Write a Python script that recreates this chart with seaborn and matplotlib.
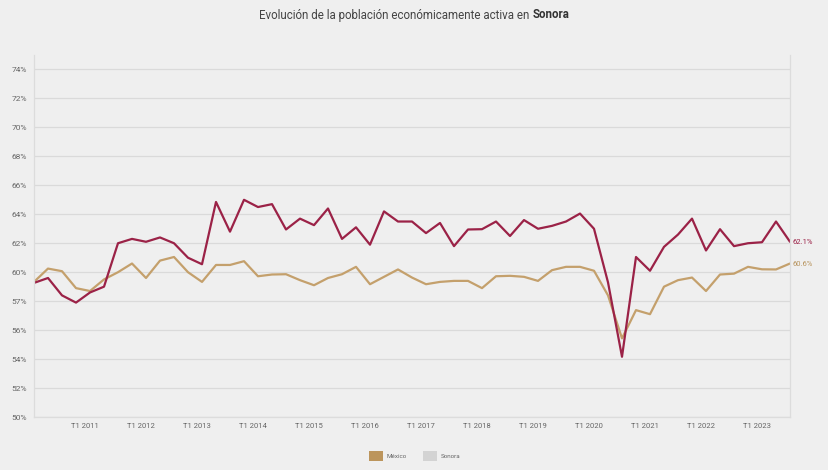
import matplotlib
matplotlib.use("Agg")
import matplotlib.pyplot as plt
import matplotlib.transforms as mtransforms
from matplotlib.patches import Patch
import seaborn as sns
import pandas as pd
import numpy as np

# ---- data (quarterly, T1 2010 .. T3 2023) ----
years = list(range(2010, 2024))
quarters = [f"T{q} {y}" for y in years for q in (1, 2, 3, 4)][:55]

sonora = [59.26, 59.6, 58.4, 57.9, 58.6, 59.0, 62.0, 62.3, 62.1, 62.4,
          62.0, 61.0, 60.55, 64.85, 62.8, 65.0, 64.5, 64.7, 62.95, 63.7,
          63.25, 64.4, 62.3, 63.1, 61.9, 64.2, 63.5, 63.5, 62.7, 63.4,
          61.8, 62.95, 62.97, 63.5, 62.5, 63.6, 63.0, 63.2, 63.5, 64.05,
          63.0, 59.3, 54.16, 61.05, 60.1, 61.75, 62.6, 63.7, 61.5, 62.97,
          61.8, 62.0, 62.07, 63.5, 62.1]

mexico = [59.33, 60.25, 60.07, 58.9, 58.7, 59.5, 60.0, 60.6, 59.6, 60.8,
          61.05, 60.0, 59.33, 60.5, 60.5, 60.76, 59.72, 59.84, 59.86, 59.45,
          59.1, 59.6, 59.86, 60.37, 59.17, 59.68, 60.19, 59.63, 59.17, 59.33,
          59.4, 59.4, 58.9, 59.72, 59.75, 59.68, 59.4, 60.14, 60.37, 60.37,
          60.1, 58.4, 55.43, 57.38, 57.1, 59.0, 59.45, 59.63, 58.7, 59.84,
          59.9, 60.37, 60.2, 60.19, 60.6]

series_names = ["México", "Sonora"]
y_ticks = [50, 52, 54, 56, 58, 60, 62, 64, 66, 68, 70, 72, 74]
y_tick_labels = ["50%", "52%", "54%", "56%", "57%", "60%", "62%", "64%",
                 "66%", "68%", "70%", "72%", "74%"]
x_tick_labels = [f"T1 {y}" for y in range(2011, 2024)]

title_normal = "Evolución de la población económicamente activa en "
title_bold = "Sonora"

# ---- styling ----
BG = "#efefef"
GRID = "#dadada"
C_SON = "#9b2247"
C_MEX = "#c4a06c"
TXT = "#666666"

sns.set_theme(style="whitegrid")
plt.rcParams["font.family"] = ["Roboto", "DejaVu Sans"]

df = pd.DataFrame({
    "idx": list(range(len(sonora))) * 2,
    "valor": mexico + sonora,
    "serie": ["México"] * len(mexico) + ["Sonora"] * len(sonora),
})

fig = plt.figure(figsize=(8.29, 4.70), dpi=100, facecolor=BG)
ax = fig.add_axes([34 / 829, 1 - 417 / 470, (790 - 34) / 829, (417 - 55) / 470])
ax.set_facecolor(BG)

sns.lineplot(data=df, x="idx", y="valor", hue="serie",
             palette={"México": C_MEX, "Sonora": C_SON},
             hue_order=series_names, linewidth=1.6, ax=ax, legend=False)

ax.set_xlim(0, len(sonora) - 1)
ax.set_ylim(50, 75)
ax.set_yticks(y_ticks)
ax.set_yticklabels(y_tick_labels)
ax.set_xticks([4 * (i + 1) for i in range(len(x_tick_labels))])
ax.set_xticklabels(x_tick_labels)
ax.set_xlabel("")
ax.set_ylabel("")
ax.grid(axis="y", color=GRID, linewidth=0.9)
ax.grid(axis="x", visible=False)
ax.tick_params(axis="x", length=0, labelsize=5.5, labelcolor=TXT, pad=4)
ax.tick_params(axis="y", length=0, labelsize=6, labelcolor=TXT, pad=5)
off = mtransforms.ScaledTranslation(-5 / 100, 0, fig.dpi_scale_trans)
for lab in ax.get_xticklabels():
    lab.set_transform(lab.get_transform() + off)
for s in ["left", "right", "bottom"]:
    ax.spines[s].set_color("#dcdcdc")
    ax.spines[s].set_linewidth(0.9)
ax.spines["top"].set_visible(False)

# end labels
ax.annotate(f"{sonora[-1]:.1f}%", xy=(len(sonora) - 1, sonora[-1]),
            xytext=(2, 0), textcoords="offset points", va="center",
            fontsize=5.5, color=C_SON)
ax.annotate(f"{mexico[-1]:.1f}%", xy=(len(mexico) - 1, mexico[-1]),
            xytext=(2, 0), textcoords="offset points", va="center",
            fontsize=5.5, color="#b8945e")

# title with bold part
fig.canvas.draw()
r = fig.canvas.get_renderer()
t1 = fig.text(0, 1 - 15 / 470, title_normal, fontsize=8.3, color="#444444",
              va="center", ha="left")
t2 = fig.text(0, 1 - 15 / 470, title_bold, fontsize=8.3, color="#333333",
              fontweight="bold", va="center", ha="left")
w1 = t1.get_window_extent(r).width
w2 = t2.get_window_extent(r).width
x0 = (829 - (w1 + w2)) / 2
t1.set_x(x0 / 829)
t2.set_x((x0 + w1) / 829)

# legend
handles = [Patch(facecolor="#bc955c", edgecolor="none"),
           Patch(facecolor="#d3d3d3", edgecolor="none")]
fig.legend(handles, series_names, loc="center", bbox_to_anchor=(0.5, 1 - 456 / 470),
           ncol=2, frameon=False, fontsize=4.5, labelcolor=TXT,
           handlelength=2.2, handleheight=2.2, columnspacing=2.6, handletextpad=0.6)

fig.savefig("out.png", dpi=100, facecolor=BG)
